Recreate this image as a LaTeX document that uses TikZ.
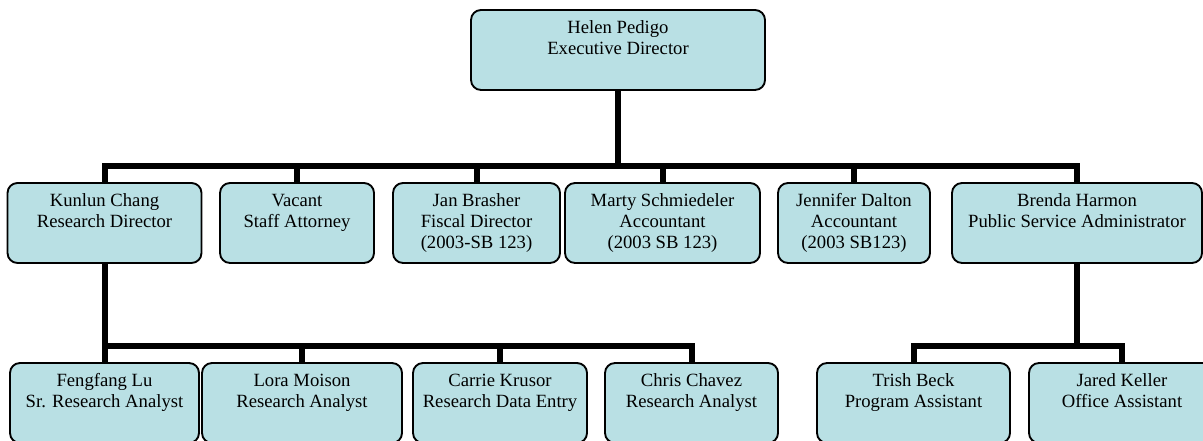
\documentclass[tikz,border=0pt]{standalone}
\usepackage{fontspec}
\setmainfont{Liberation Serif}
\usetikzlibrary{calc}
\definecolor{boxfill}{RGB}{185,224,228}
% box text: fixed height, lines set from the top
\newcommand{\orgtext}[2]{\parbox[c][60pt][t]{#1}{\centering\rule{0pt}{18pt}#2}}

\begin{document}
\begin{tikzpicture}[x=0.75pt,y=-0.75pt,
  orgbox/.style={draw,line width=1.4pt,rounded corners=7.5pt,fill=boxfill,inner sep=0pt,outer sep=0pt,anchor=north,font=\fontsize{14}{15.75}\selectfont},
  link/.style={line width=4.5pt}]
  \useasboundingbox (0,0) rectangle (1203,441);
  \clip (0,0) rectangle (1203,441);
  % top
  \node[orgbox] (helen) at (618,10) {\orgtext{220.5pt}{Helen Pedigo\\Executive Director}};
  % second row
  \node[orgbox] (kunlun) at (104.5,183) {\orgtext{145.5pt}{Kunlun Chang\\Research Director}};
  \node[orgbox] (vacant) at (297,183) {\orgtext{115.5pt}{Vacant\\Staff Attorney}};
  \node[orgbox] (jan) at (476.5,183) {\orgtext{125.25pt}{Jan Brasher\\Fiscal Director\\(2003-SB 123)}};
  \node[orgbox] (marty) at (662.5,183) {\orgtext{146.25pt}{Marty Schmiedeler\\Accountant\\(2003 SB 123)}};
  \node[orgbox] (jennifer) at (854,183) {\orgtext{114pt}{Jennifer Dalton\\Accountant\\(2003 SB123)}};
  \node[orgbox] (brenda) at (1077,183) {\orgtext{187.5pt}{Brenda Harmon\\Public Service Administrator}};
  % third row
  \node[orgbox] (fengfang) at (104.5,363) {\orgtext{141.75pt}{Fengfang Lu\\Sr. Research Analyst}};
  \node[orgbox] (lora) at (302,363) {\orgtext{150pt}{Lora Moison\\Research Analyst}};
  \node[orgbox] (carrie) at (500,363) {\orgtext{130.5pt}{Carrie Krusor\\Research Data Entry}};
  \node[orgbox] (chris) at (691.5,363) {\orgtext{129.75pt}{Chris Chavez\\Research Analyst}};
  \node[orgbox] (trish) at (913.5,363) {\orgtext{144.75pt}{Trish Beck\\Program Assistant}};
  \node[orgbox] (jared) at (1122,363) {\orgtext{139.5pt}{Jared Keller\\Office Assistant}};
  % connectors
  \coordinate (topbus) at (618,166.5);
  \coordinate (resbus) at (104.5,346.5);
  \coordinate (admbus) at (1077,346.5);
  \draw[link] (helen.south) -- (topbus);
  \draw[link] (kunlun.north) |- (topbus) -| (brenda.north);
  \foreach \n in {vacant,jan,marty,jennifer}
    \draw[link] (\n.north) -- (\n.north |- topbus);
  \draw[link] (kunlun.south) -- (resbus);
  \draw[link] (fengfang.north) |- (resbus) -| (chris.north);
  \foreach \n in {lora,carrie}
    \draw[link] (\n.north) -- (\n.north |- resbus);
  \draw[link] (brenda.south) -- (admbus);
  \draw[link] (trish.north) |- (admbus) -| (jared.north);
\end{tikzpicture}
\end{document}
